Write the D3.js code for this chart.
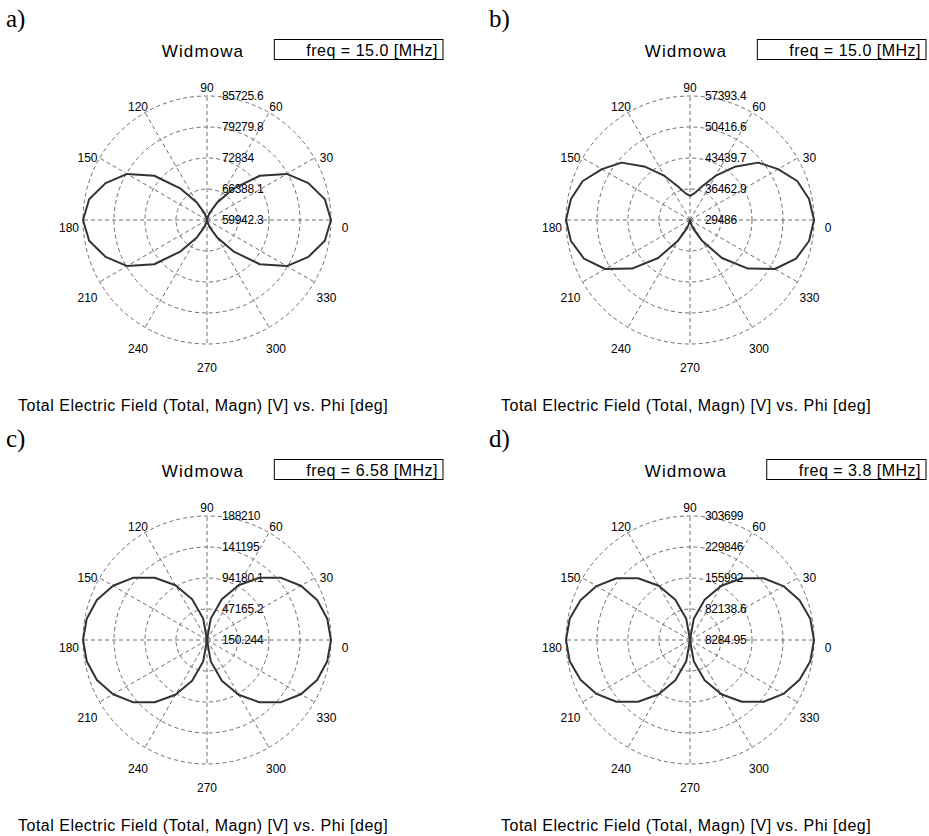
<!DOCTYPE html>
<html>
<head>
<meta charset="utf-8">
<script src="https://cdn.jsdelivr.net/npm/d3@7"></script>
<style>
  body { margin: 0; background: #fff; }
  svg { display: block; }
</style>
</head>
<body>
<svg id="chart" width="929" height="836"></svg>
<script>
// angles of the samples, deg
var phiDeg = [0, 10, 20, 30, 40, 50, 60, 70, 80, 90, 100, 110, 120, 130, 140, 150, 160, 170,
              180, 190, 200, 210, 220, 230, 240, 250, 260, 270, 280, 290, 300, 310, 320, 330, 340, 350];

// |E| [V]
var fieldA = [85725.6, 84823, 82374, 79099, 74252, 68451, 64068, 61489, 60329, 59942.3,
              60329, 61489, 64068, 68451, 74252, 79099, 82374, 84823, 85725.6,
              84823, 82374, 79099, 74252, 68451, 64068, 61489, 60329, 59942.3,
              60329, 61489, 64068, 68451, 74252, 79099, 82374, 84823];
var fieldB = [57393.4, 56696, 55161, 52370, 49579, 45114, 40928, 37579, 35626, 34928,
              35626, 37579, 40928, 45114, 49579, 52370, 55161, 56696, 57393.4,
              56696, 54882, 51533, 46510, 40649, 34788, 31440, 30044, 29486,
              30044, 31440, 34788, 40649, 46510, 51533, 54882, 56696];
var fieldC = [188210, 185389, 177867, 164702, 146837, 123329, 96061, 65971, 33061, 150.244,
              33061, 65971, 96061, 123329, 146837, 164702, 177867, 185389, 188210,
              185389, 177867, 164702, 146837, 123329, 96061, 65971, 33061, 150.244,
              33061, 65971, 96061, 123329, 146837, 164702, 177867, 185389];
var fieldD = [303699, 299268, 285974, 265295, 237231, 200304, 157469, 110203, 59982, 8284.95,
              59982, 110203, 157469, 200304, 237231, 265295, 285974, 299268, 303699,
              299268, 285974, 265295, 237231, 200304, 157469, 110203, 59982, 8284.95,
              59982, 110203, 157469, 200304, 237231, 265295, 285974, 299268];

// ring tick values (min at centre, max at outer circle)
var ringsA = [59942.3, 66388.1, 72834, 79279.8, 85725.6];
var ringsB = [29486, 36462.9, 43439.7, 50416.6, 57393.4];
var ringsC = [150.244, 47165.2, 94180.1, 141195, 188210];
var ringsD = [8284.95, 82138.6, 155992, 229846, 303699];

var spokeLabels = [0, 30, 60, 90, 120, 150, 180, 210, 240, 270, 300, 330];
var panelLetters = ['a)', 'b)', 'c)', 'd)'];
var freqLabels = ['freq = 15.0 [MHz]', 'freq = 15.0 [MHz]', 'freq = 6.58 [MHz]', 'freq = 3.8 [MHz]'];
var plotTitle = 'Widmowa';
var axisTitle = 'Total Electric Field (Total, Magn) [V] vs. Phi [deg]';

var series = [fieldA, fieldB, fieldC, fieldD];
var rings = [ringsA, ringsB, ringsC, ringsD];

var sans = '"Liberation Sans", Arial, sans-serif';
var serif = '"Liberation Serif", "Times New Roman", serif';

var svg = d3.select('#chart');
svg.append('rect').attr('width', 929).attr('height', 836).attr('fill', '#fff');

var offsets = [[0, 0], [483, 0], [0, 420], [483, 420]];
var cx = 207, cy = 220, R = 124;
var rad = Math.PI / 180;
var gridColor = '#6e6e6e';

function drawPanel(i) {
    var g = svg.append('g')
        .attr('transform', 'translate(' + offsets[i][0] + ',' + offsets[i][1] + ')');

    var ticks = rings[i];
    var r = d3.scaleLinear()
        .domain([ticks[0], ticks[ticks.length - 1]])
        .range([0, R]);

    // panel letter
    g.append('text')
        .attr('x', 6).attr('y', 27)
        .style('font-family', serif).style('font-size', '25px')
        .text(panelLetters[i]);

    // title
    g.append('text')
        .attr('x', 203).attr('y', 57)
        .attr('text-anchor', 'middle')
        .style('font-family', sans).style('font-size', '17px')
        .style('letter-spacing', '1.1px')
        .text(plotTitle);

    // freq box, text right aligned
    var ft = g.append('text')
        .attr('x', 438).attr('y', 55.5)
        .attr('text-anchor', 'end')
        .style('font-family', sans).style('font-size', '16px')
        .style('letter-spacing', '0.5px')
        .text(freqLabels[i]);
    var fw = ft.node().getComputedTextLength();
    var bx = 438 - fw - 32;
    g.append('rect')
        .attr('x', bx).attr('y', 39.5)
        .attr('width', 443 - bx).attr('height', 20)
        .attr('fill', 'none').attr('stroke', '#000').attr('stroke-width', 1);

    var plot = g.append('g').attr('transform', 'translate(' + cx + ',' + cy + ')');

    // rings
    plot.selectAll('circle.ring')
        .data(ticks.slice(1))
        .enter().append('circle')
        .attr('class', 'ring')
        .attr('r', function (d) { return r(d); })
        .attr('fill', 'none')
        .attr('stroke', gridColor)
        .attr('stroke-width', 1)
        .style('stroke-dasharray', '4,3');

    // spokes
    plot.selectAll('line.spoke')
        .data(spokeLabels)
        .enter().append('line')
        .attr('class', 'spoke')
        .attr('x1', 0).attr('y1', 0)
        .attr('x2', function (d) { return R * Math.cos(d * rad); })
        .attr('y2', function (d) { return -R * Math.sin(d * rad); })
        .attr('stroke', gridColor)
        .attr('stroke-width', 1)
        .style('stroke-dasharray', '4,3');

    // angle labels
    plot.selectAll('text.ang')
        .data(spokeLabels)
        .enter().append('text')
        .attr('class', 'ang')
        .attr('x', function (d) { return (R + 14) * Math.cos(d * rad); })
        .attr('y', function (d) { return -(R + 16) * Math.sin(d * rad) + 12; })
        .attr('text-anchor', 'middle')
        .style('font-family', sans).style('font-size', '12px')
        .text(function (d) { return d; });

    // ring value labels
    plot.selectAll('text.rv')
        .data(ticks)
        .enter().append('text')
        .attr('class', 'rv')
        .attr('x', 15)
        .attr('y', function (d) { return -r(d) + 4; })
        .style('font-family', sans).style('font-size', '12px')
        .style('letter-spacing', '-0.3px')
        .text(function (d) { return String(d); });

    // pattern
    var pts = phiDeg.map(function (p, k) { return { phi: p, e: series[i][k] }; });
    var line = d3.lineRadial()
        .angle(function (d) { return (90 - d.phi) * rad; })
        .radius(function (d) { return r(d.e); })
        .curve(d3.curveLinearClosed);

    plot.append('path')
        .attr('d', line(pts))
        .attr('fill', 'none')
        .attr('stroke', '#333')
        .attr('stroke-width', 2)
        .attr('stroke-linejoin', 'round');

    // bottom caption
    g.append('text')
        .attr('x', 18).attr('y', 411)
        .style('font-family', sans).style('font-size', '16px')
        .style('letter-spacing', '0.5px')
        .text(axisTitle);
}

for (var i = 0; i < 4; i++) drawPanel(i);
</script>
</body>
</html>
